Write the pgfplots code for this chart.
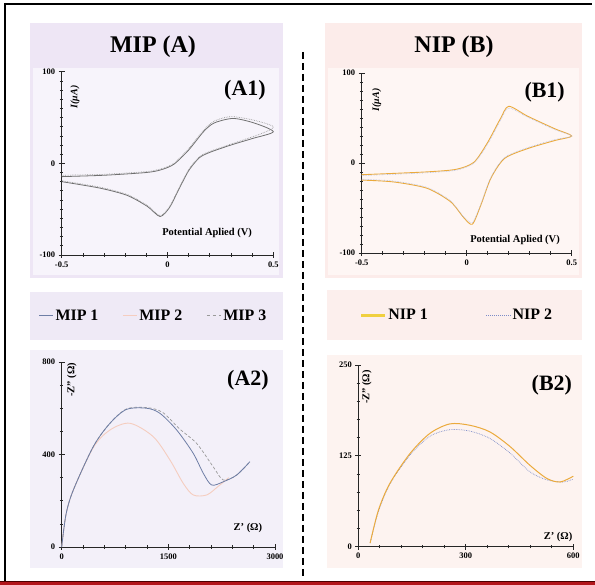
\documentclass[border=0pt]{standalone}
\usepackage{fontspec}
\setmainfont{Liberation Serif}
\usepackage{pgfplots}
\pgfplotsset{compat=1.18}
\definecolor{lavPanel}{HTML}{EEE6F5}
\definecolor{lavInner}{HTML}{F7F4FB}
\definecolor{lavLeg}{HTML}{EFEAF6}
\definecolor{lavB}{HTML}{F3F0F9}
\definecolor{pinkPanel}{HTML}{FCECEA}
\definecolor{pinkInner}{HTML}{FEF6F4}
\definecolor{pinkLeg}{HTML}{FCEFED}
\definecolor{pinkB}{HTML}{FDF3F0}
\definecolor{mipA}{HTML}{6E7EA6}
\definecolor{mipB}{HTML}{F5CDBF}
\definecolor{mipC}{HTML}{9A9A9A}
\definecolor{cvgray}{HTML}{707070}
\definecolor{nipOr}{HTML}{EBAA3C}
\definecolor{nipYel}{HTML}{F0D040}
\definecolor{nipBlue}{HTML}{7C8CC8}
\definecolor{framered}{HTML}{B3161C}
\tikzset{
  lab/.style={font=\fontsize{10.5}{11}\selectfont\bfseries},
  ilab/.style={font=\fontsize{10}{11}\selectfont\bfseries\itshape},
  big/.style={font=\fontsize{22}{24}\selectfont\bfseries},
}
\pgfplotsset{
  panel/.style={
    scale only axis, anchor=south west, clip=false,
    axis lines=left, axis line style={-, line width=0.9pt, black!85},
    tick style={black!85, line width=0.7pt},
    major tick length=6bp, minor tick length=3.5bp, tick align=center,
    ticklabel style={font=\fontsize{8.5}{9}\selectfont\bfseries},
    /pgf/number format/assume math mode=true,
    /pgf/number format/1000 sep={},
    legend image code/.code={\draw[##1] (0bp,0bp) -- (14bp,0bp);},
  },
}
\begin{document}
\begin{tikzpicture}
\useasboundingbox (0,0) rectangle (595bp,585bp);
\fill[white] (0,0) rectangle (595bp,585bp);
% frame
\draw[line width=2bp, black] (4bp,581bp) -- (592bp,581bp);
\draw[line width=2bp, black] (5bp,582bp) -- (5bp,3bp);
\fill[framered] (0,0) rectangle (595bp,3.5bp);
\draw[line width=0.8bp, black!70!red] (0,4bp) -- (595bp,4bp);
% panels
\fill[lavPanel] (30bp,307bp) rectangle (283bp,562bp);
\fill[lavInner] (33bp,310bp) rectangle (279bp,517bp);
\fill[pinkPanel] (325bp,307bp) rectangle (582bp,562bp);
\fill[pinkInner] (328bp,310bp) rectangle (579bp,517bp);
\fill[lavLeg] (30bp,245bp) rectangle (283bp,293bp);
\fill[pinkLeg] (327bp,245bp) rectangle (582bp,295bp);
\fill[lavB] (30bp,17bp) rectangle (283bp,235bp);
\fill[pinkB] (327bp,17bp) rectangle (582bp,230bp);
% divider
\draw[line width=1.8bp, dash pattern=on 7bp off 4bp] (303bp,533bp) -- (303bp,7bp);
% titles
\node[font=\fontsize{24}{26}\selectfont\bfseries] at (153bp,538bp) {MIP (A)};
\node[font=\fontsize{24}{26}\selectfont\bfseries] at (454bp,538bp) {NIP (B)};

% ---------------- A1 ----------------
\begin{axis}[panel, at={(61.7bp,330bp)}, width=211.6bp, height=183.3bp,
  xmin=-0.5, xmax=0.5, ymin=-100, ymax=100,
  xtick={-0.5,0,0.5}, ytick={-100,0,100},
  minor x tick num=4, minor y tick num=9]
\addplot[cvgray, line width=0.8pt, smooth, tension=0.45] coordinates {
(-0.5,-14.5) (-0.3,-13) (-0.1,-10) (-0.03,-7) (0.03,-1) (0.1,14.5) (0.17,34.5) (0.22,44) (0.31,49) (0.41,44) (0.5,34.5)
(0.4,27) (0.3,20) (0.2,12) (0.15,6) (0.1,-8) (0.05,-30) (0.01,-48) (-0.035,-58) (-0.095,-47) (-0.19,-35) (-0.32,-27) (-0.5,-20)};
\addplot[mipC, line width=0.7pt, densely dotted, smooth, tension=0.45] coordinates {
(-0.5,-13) (-0.3,-12) (-0.1,-9) (-0.03,-6) (0.03,0) (0.1,16) (0.17,36) (0.22,46) (0.3,51) (0.41,47) (0.5,40)
(0.45,33) (0.3,21) (0.2,13) (0.15,7) (0.1,-7) (0.05,-29) (0.01,-47) (-0.035,-57) (-0.095,-46) (-0.19,-34) (-0.32,-26) (-0.5,-19)};
\node[ilab, rotate=90] at (rel axis cs:0.063,0.862) {I(μA)};
\node[lab] at (rel axis cs:0.687,0.12) {Potential Aplied (V)};
\node[big] at (rel axis cs:0.866,0.9) {(A1)};
\end{axis}

% ---------------- B1 ----------------
\begin{axis}[panel, at={(361.7bp,332bp)}, width=210bp, height=180bp,
  xmin=-0.5, xmax=0.5, ymin=-100, ymax=100,
  xtick={-0.5,0,0.5}, ytick={-100,0,100},
  minor x tick num=4, minor y tick num=9]
\addplot[nipOr, line width=0.9pt, smooth, tension=0.45] coordinates {
(-0.5,-13) (-0.2,-10) (-0.05,-7) (0.035,1) (0.10,23) (0.16,49) (0.20,63) (0.29,52) (0.42,38) (0.5,30)
(0.42,25) (0.29,16) (0.18,5) (0.115,-17) (0.067,-47) (0.027,-68) (-0.013,-61) (-0.077,-43) (-0.19,-28) (-0.35,-21) (-0.5,-19)};
\addplot[nipBlue!60, line width=0.6pt, densely dotted, smooth, tension=0.45] coordinates {
(-0.5,-14) (-0.2,-11) (-0.05,-8) (0.035,0) (0.10,21) (0.16,47) (0.20,61) (0.29,51) (0.42,37) (0.5,30)
(0.42,26) (0.29,17) (0.18,6) (0.115,-16) (0.067,-46) (0.027,-66) (-0.013,-60) (-0.077,-42) (-0.19,-27) (-0.35,-20) (-0.5,-18)};
\node[ilab, rotate=90] at (rel axis cs:0.071,0.85) {I(μA)};
\node[lab] at (rel axis cs:0.73,0.072) {Potential Aplied (V)};
\node[big] at (rel axis cs:0.871,0.894) {(B1)};
\end{axis}

% ---------------- A2 ----------------
\begin{axis}[panel, at={(61.7bp,38bp)}, width=213.3bp, height=185bp,
  xmin=0, xmax=3000, ymin=0, ymax=800,
  xtick={0,1500,3000}, ytick={0,400,800},
  minor x tick num=4, minor y tick num=3,
  legend style={at={(0.43,1.249)}, anchor=center, draw=none, fill=none,
    font=\fontsize{16}{17}\selectfont\bfseries,
    /tikz/every even column/.append style={column sep=22bp}},
  legend columns=3]
\addlegendimage{mipA, line width=1pt}
\addlegendentry{MIP 1}
\addlegendimage{mipB, line width=1pt}
\addlegendentry{MIP 2}
\addlegendimage{mipC, line width=1pt, dashed}
\addlegendentry{MIP 3}
\addplot[mipB, line width=0.9pt, smooth, forget plot] coordinates {
(0,0) (60,140) (163,246) (444,430) (679,506) (960,535) (1288,477) (1523,376) (1710,275) (1850,225) (2039,225) (2200,262) (2350,300)};
\addplot[mipC, line width=0.7pt, densely dashed, smooth, forget plot] coordinates {
(0,0) (60,140) (163,246) (444,434) (679,535) (912,597) (1195,603) (1420,582) (1660,510) (1898,448) (2131,347) (2272,290) (2460,311) (2647,369)};
\addplot[mipA, line width=0.8pt, smooth, forget plot] coordinates {
(0,0) (60,140) (163,246) (444,434) (679,535) (912,595) (1195,600) (1382,578) (1617,506) (1850,405) (1991,319) (2109,268) (2272,282) (2460,311) (2647,369)};
\node[lab, rotate=90] at (rel axis cs:0.048,0.903) {-Z'' (Ω)};
\node[lab] at (rel axis cs:0.873,0.103) {Z' (Ω)};
\node[big] at (rel axis cs:0.873,0.903) {(A2)};
\end{axis}

% ---------------- B2 ----------------
\begin{axis}[panel, at={(358.3bp,38.3bp)}, width=215bp, height=181.7bp,
  xmin=0, xmax=600, ymin=0, ymax=250,
  xtick={0,300,600}, ytick={0,125,250},
  minor x tick num=4, minor y tick num=4,
  legend image code/.code={\draw[#1] (0bp,0bp) -- (24bp,0bp);},
  legend style={at={(0.459,1.273)}, anchor=center, draw=none, fill=none,
    font=\fontsize{16}{17}\selectfont\bfseries,
    /tikz/every even column/.append style={column sep=56bp}},
  legend columns=2]
\addlegendimage{nipYel, line width=2.5pt}
\addlegendentry{NIP 1}
\addlegendimage{nipBlue, line width=1pt, densely dotted}
\addlegendentry{NIP 2}
\addplot[nipBlue, line width=0.7pt, densely dotted, smooth, forget plot] coordinates {
(33,5) (56,48) (88,86) (144,126) (200,152) (256,161) (312,159) (367,149) (423,129) (479,103) (526,92) (572,89) (600,93)};
\addplot[nipOr, line width=1pt, smooth, forget plot] coordinates {
(33,5) (56,50) (88,87) (144,128) (200,156) (256,169) (312,167) (367,158) (423,138) (479,112) (526,94) (563,89) (600,97)};
\node[lab, rotate=90] at (rel axis cs:0.04,0.879) {-Z'' (Ω)};
\node[lab] at (rel axis cs:0.929,0.053) {Z' (Ω)};
\node[big] at (rel axis cs:0.90,0.89) {(B2)};
\end{axis}
\end{tikzpicture}
\end{document}
